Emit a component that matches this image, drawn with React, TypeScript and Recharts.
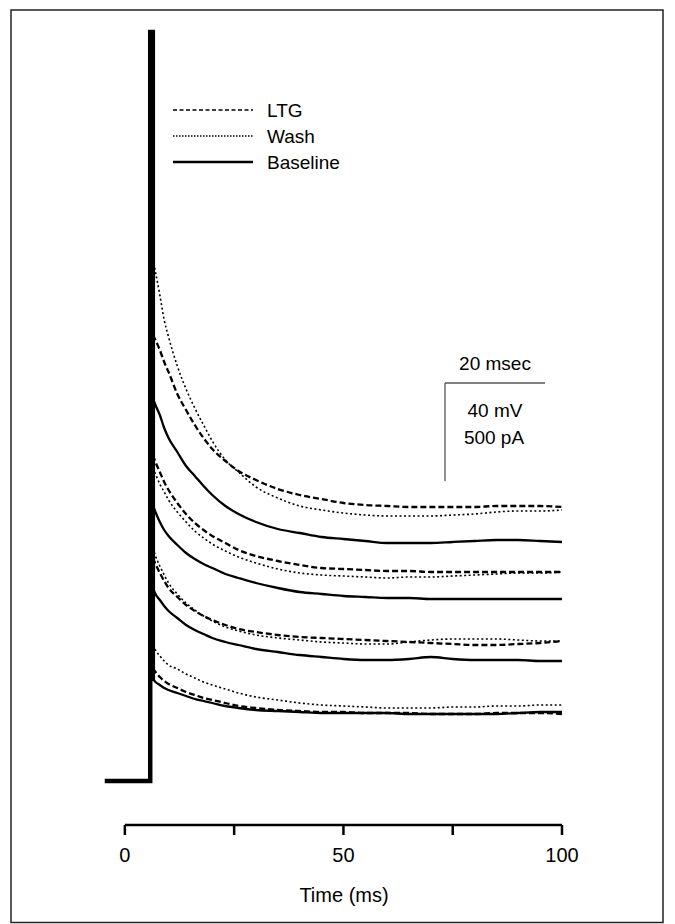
import React from 'react';
import { LineChart, Line, XAxis, YAxis, ReferenceLine } from 'recharts';

// Time grid (ms) shared by all decaying traces
const timeMs = [6.4, 7, 8, 9, 10, 12, 14, 16, 18, 20, 23, 26, 30, 35, 40, 45, 50, 55, 60, 65, 70, 75, 80, 85, 90, 95, 100];

// Current (pA, relative to holding level) — four voltage steps, three conditions each
const g1Ltg = [2230, 2205, 2155, 2095, 2045, 1935, 1855, 1780, 1715, 1660, 1600, 1550, 1505, 1460, 1430, 1410, 1390, 1380, 1375, 1370, 1370, 1370, 1370, 1375, 1375, 1375, 1370];
const g1Wash = [2610, 2545, 2430, 2305, 2220, 2075, 1960, 1865, 1780, 1700, 1605, 1545, 1470, 1415, 1375, 1355, 1340, 1330, 1325, 1325, 1325, 1330, 1335, 1345, 1350, 1350, 1355];
const g1Base = [1915, 1880, 1830, 1765, 1715, 1645, 1575, 1525, 1475, 1430, 1375, 1335, 1295, 1260, 1240, 1220, 1210, 1200, 1190, 1190, 1190, 1195, 1200, 1205, 1205, 1200, 1195];

const g2Ltg = [1630, 1595, 1545, 1495, 1455, 1390, 1335, 1290, 1255, 1225, 1190, 1155, 1125, 1100, 1080, 1065, 1060, 1055, 1050, 1050, 1045, 1045, 1045, 1045, 1045, 1045, 1045];
const g2Wash = [1565, 1535, 1485, 1445, 1405, 1345, 1295, 1250, 1215, 1185, 1150, 1120, 1090, 1060, 1040, 1030, 1025, 1020, 1015, 1020, 1020, 1025, 1030, 1035, 1040, 1040, 1045];
const g2Base = [1380, 1345, 1295, 1255, 1225, 1180, 1140, 1110, 1085, 1065, 1035, 1015, 990, 965, 945, 935, 925, 920, 915, 915, 910, 910, 910, 910, 910, 910, 910];

const g3Ltg = [1115, 1085, 1040, 1000, 965, 920, 880, 850, 825, 805, 780, 760, 745, 730, 720, 715, 710, 705, 700, 695, 690, 685, 680, 680, 685, 690, 700];
const g3Wash = [1165, 1125, 1075, 1030, 990, 935, 890, 855, 825, 800, 770, 750, 730, 715, 705, 695, 690, 685, 685, 695, 705, 710, 710, 710, 705, 700, 700];
const g3Base = [965, 935, 905, 875, 850, 815, 780, 755, 735, 715, 695, 680, 660, 645, 630, 620, 610, 605, 605, 610, 620, 610, 605, 605, 605, 600, 600];

const g4Ltg = [565, 545, 520, 500, 485, 465, 445, 430, 415, 405, 390, 375, 365, 355, 350, 345, 345, 340, 340, 340, 335, 335, 335, 340, 340, 340, 335];
const g4Wash = [680, 655, 625, 600, 580, 560, 535, 515, 495, 480, 460, 440, 420, 405, 390, 380, 375, 370, 365, 365, 365, 370, 370, 375, 375, 380, 380];
const g4Base = [510, 495, 480, 465, 455, 440, 425, 410, 400, 390, 375, 365, 355, 350, 345, 340, 340, 340, 340, 335, 335, 335, 335, 335, 340, 345, 345];

// Holding level and the capacitive spike at step onset
const spikeTime = [-4.6, 5.8, 5.8, 6.4, 6.4];
const spikeValue = [0, 0, 3745, 3745, 500];

const xTicks = [0, 25, 50, 75, 100];
const xTickLabels = ['0', '', '50', '', '100'];
const legendItems = ['LTG', 'Wash', 'Baseline'];
const axisTitle = 'Time (ms)';
const scaleLabels = ['20 msec', '40 mV', '500 pA'];

const seriesList = [
  { key: 'g1Ltg', values: g1Ltg, kind: 'ltg' },
  { key: 'g1Wash', values: g1Wash, kind: 'wash' },
  { key: 'g1Base', values: g1Base, kind: 'base' },
  { key: 'g2Ltg', values: g2Ltg, kind: 'ltg' },
  { key: 'g2Wash', values: g2Wash, kind: 'wash' },
  { key: 'g2Base', values: g2Base, kind: 'base' },
  { key: 'g3Ltg', values: g3Ltg, kind: 'ltg' },
  { key: 'g3Wash', values: g3Wash, kind: 'wash' },
  { key: 'g3Base', values: g3Base, kind: 'base' },
  { key: 'g4Ltg', values: g4Ltg, kind: 'ltg' },
  { key: 'g4Wash', values: g4Wash, kind: 'wash' },
  { key: 'g4Base', values: g4Base, kind: 'base' },
];

const styles: Record<string, { w: number; dash?: string }> = {
  ltg: { w: 2.3, dash: '6 3' },
  wash: { w: 1.6, dash: '2 2.5' },
  base: { w: 2.3 },
};

const rows = timeMs.map((t, i) => {
  const r: Record<string, number> = { t };
  seriesList.forEach((s) => {
    r[s.key] = s.values[i];
  });
  return r;
});

const spikeRows = spikeTime.map((t, i) => ({ t, v: spikeValue[i] }));

const FONT = '"Liberation Sans", Arial, Helvetica, sans-serif';

export default function App() {
  return (
    <div style={{ position: 'absolute', left: 0, top: 0, width: 675, height: 924, background: '#fff' }}>
      <LineChart
        width={675}
        height={924}
        data={rows}
        margin={{ top: 32, right: 113, left: 103, bottom: 0 }}
      >
        <XAxis
          dataKey="t"
          type="number"
          domain={[-5, 100]}
          ticks={xTicks}
          tickFormatter={(v: number) => xTickLabels[xTicks.indexOf(v)] ?? ''}
          axisLine={false}
          tickLine={{ stroke: '#000', strokeWidth: 2.5 }}
          tickSize={10}
          tickMargin={13}
          height={99}
          tick={{ fill: '#000', fontSize: 20, fontFamily: FONT }}
        />
        <YAxis type="number" domain={[-220, 3745]} hide />
        <ReferenceLine
          segment={[{ x: 0, y: -220 }, { x: 100, y: -220 }]}
          stroke="#000"
          strokeWidth={2.5}
          ifOverflow="visible"
        />
        {seriesList.map((s) => (
          <Line
            key={s.key}
            dataKey={s.key}
            type="monotone"
            stroke="#000"
            strokeWidth={styles[s.kind].w}
            strokeDasharray={styles[s.kind].dash}
            dot={false}
            activeDot={false}
            isAnimationActive={false}
          />
        ))}
        <Line
          data={spikeRows}
          dataKey="v"
          type="linear"
          stroke="#000"
          strokeWidth={4.5}
          dot={false}
          activeDot={false}
          isAnimationActive={false}
        />
      </LineChart>
      <svg
        width={675}
        height={924}
        style={{ position: 'absolute', left: 0, top: 0, pointerEvents: 'none' }}
        fontFamily={FONT}
      >
        <rect x={11} y={10} width={652} height={912.5} fill="none" stroke="#222" strokeWidth={1.5} />
        {/* legend */}
        <line x1={173} x2={253} y1={110} y2={110} stroke="#000" strokeWidth={1.6} strokeDasharray="4 2.5" />
        <line x1={173} x2={253} y1={136} y2={136} stroke="#000" strokeWidth={1.3} strokeDasharray="1.5 1.5" />
        <line x1={173} x2={253} y1={162} y2={162} stroke="#000" strokeWidth={2.3} />
        <text x={267} y={117} fontSize={19} fill="#000">{legendItems[0]}</text>
        <text x={267} y={143} fontSize={19} fill="#000">{legendItems[1]}</text>
        <text x={267} y={169} fontSize={19} fill="#000">{legendItems[2]}</text>
        {/* scale bar */}
        <line x1={445} x2={545} y1={383} y2={383} stroke="#555" strokeWidth={1.3} />
        <line x1={445} x2={445} y1={383} y2={481} stroke="#555" strokeWidth={1.3} />
        <text x={495} y={370} fontSize={19} textAnchor="middle" fill="#000">{scaleLabels[0]}</text>
        <text x={495} y={417} fontSize={19} textAnchor="middle" fill="#000">{scaleLabels[1]}</text>
        <text x={494} y={444} fontSize={19} textAnchor="middle" fill="#000">{scaleLabels[2]}</text>
        {/* axis title */}
        <text x={344} y={902} fontSize={20} textAnchor="middle" fill="#000">{axisTitle}</text>
      </svg>
    </div>
  );
}
